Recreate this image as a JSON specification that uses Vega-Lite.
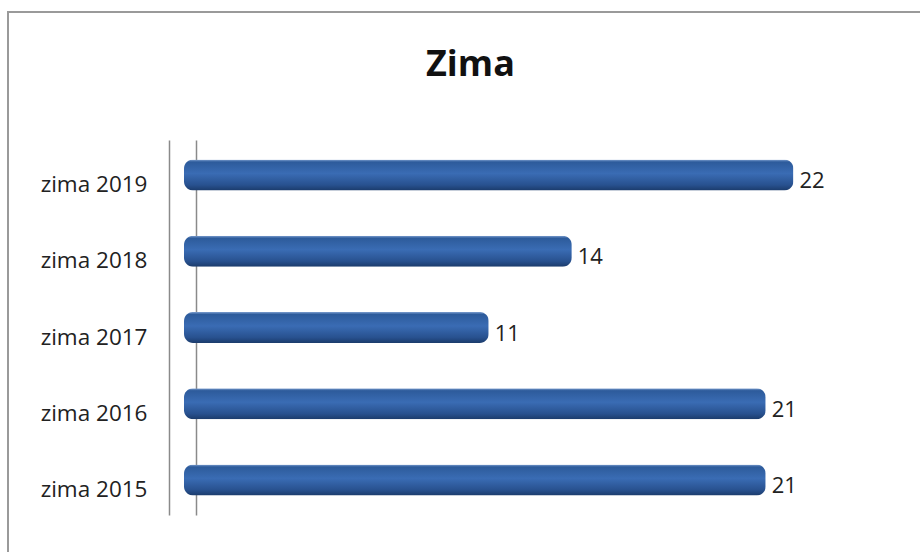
{
  "$schema": "https://vega.github.io/schema/vega-lite/v6.json",
  "width": 920,
  "height": 545,
  "autosize": {"type": "none"},
  "padding": {"left": 8, "top": 12, "right": 0, "bottom": 0},
  "background": "white",
  "title": {
    "text": "Zima",
    "font": "Open Sans",
    "fontSize": 36,
    "fontWeight": "bold",
    "color": "#111111",
    "anchor": "start",
    "dx": 418,
    "offset": -72
  },
  "config": {
    "view": {"stroke": "#9a9a9a", "strokeWidth": 2},
    "font": "Open Sans"
  },
  "data": {
    "values": [
      {"season": "zima 2019", "count": 22},
      {"season": "zima 2018", "count": 14},
      {"season": "zima 2017", "count": 11},
      {"season": "zima 2016", "count": 21},
      {"season": "zima 2015", "count": 21}
    ]
  },
  "resolve": {"axis": {"y": "independent"}},
  "layer": [
    {
      "mark": {
        "type": "bar",
        "cornerRadius": 9,
        "color": {
          "gradient": "linear",
          "x1": 0, "y1": 0, "x2": 0, "y2": 1,
          "stops": [
            {"offset": 0, "color": "#7d9fd0"},
            {"offset": 0.08, "color": "#2d5b9b"},
            {"offset": 0.45, "color": "#3a6cb4"},
            {"offset": 0.82, "color": "#28518f"},
            {"offset": 1, "color": "#1b3b6b"}
          ]
        }
      },
      "encoding": {
        "y": {
          "field": "season",
          "type": "nominal",
          "sort": null,
          "scale": {"range": [128, 503], "paddingInner": 0.593, "paddingOuter": 0.256},
          "axis": {
            "orient": "left",
            "title": null,
            "offset": -161,
            "ticks": false,
            "labelPadding": 22,
            "labelOffset": 10,
            "labelFont": "Open Sans",
            "labelFontSize": 22.5,
            "labelColor": "#222222",
            "domain": true,
            "domainColor": "#8a8a8a",
            "domainWidth": 1.5,
            "grid": false
          }
        },
        "x": {
          "field": "count",
          "type": "quantitative",
          "scale": {"domain": [-6.354, 26.86], "zero": false, "nice": false},
          "axis": null
        }
      }
    },
    {
      "mark": {
        "type": "text",
        "align": "left",
        "baseline": "middle",
        "dx": 6,
        "dy": 6,
        "fontSize": 22,
        "font": "Open Sans",
        "color": "#222222"
      },
      "encoding": {
        "y": {
          "field": "season",
          "type": "nominal",
          "sort": null,
          "axis": {
            "orient": "right",
            "title": null,
            "offset": -732,
            "labels": false,
            "ticks": false,
            "domain": true,
            "domainColor": "#8a8a8a",
            "domainWidth": 1.5,
            "grid": false
          }
        },
        "x": {"field": "count", "type": "quantitative"},
        "text": {"field": "count", "type": "quantitative"}
      }
    }
  ]
}
